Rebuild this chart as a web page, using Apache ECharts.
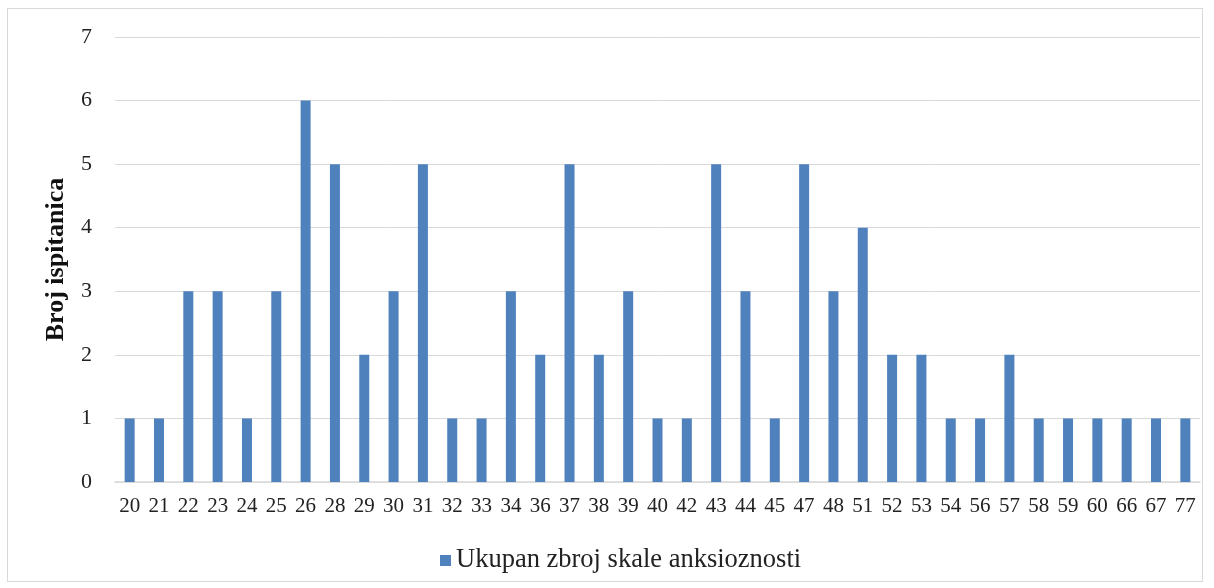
<!DOCTYPE html>
<html><head><meta charset="utf-8">
<script src="https://cdn.jsdelivr.net/npm/echarts@6/dist/echarts.min.js"></script>
<style>html,body{margin:0;padding:0;background:#fff}#c{width:1214px;height:588px}
#frame{position:absolute;left:7px;top:8px;width:1196px;height:574px;border:1px solid #d9d9d9;box-sizing:border-box;pointer-events:none}</style>
</head><body><div id="c"></div><div id="frame"></div>
<script>
const categories = ['20','21','22','23','24','25','26','28','29','30','31','32','33','34','36','37','38','39','40','42','43','44','45','47','48','51','52','53','54','56','57','58','59','60','66','67','77'];
const values = [1,1,3,3,1,3,6,5,2,3,5,1,1,3,2,5,2,3,1,1,5,3,1,5,3,4,2,2,1,1,2,1,1,1,1,1,1];
const seriesName = 'Ukupan zbroj skale anksioznosti';
const yTitle = 'Broj ispitanica';
const chart = echarts.init(document.getElementById('c'));
const font = '"Liberation Serif","Times New Roman",serif';
chart.setOption({
  animation:false,
  textStyle:{fontFamily:font},
  grid:{left:115,right:14,top:37,bottom:106},
  legend:{top:542,left:435,itemWidth:11,itemHeight:11,icon:'rect',itemGap:6,
    textStyle:{fontFamily:font,fontSize:26.5,color:'#222'},data:[seriesName]},
  xAxis:{type:'category',data:categories,
    axisLine:{lineStyle:{color:'#d9d9d9',width:1.5}},axisTick:{show:false},
    axisLabel:{fontFamily:font,fontSize:21,color:'#222',margin:14,interval:0}},
  yAxis:{type:'value',min:0,max:7,interval:1,
    name:yTitle,nameLocation:'middle',nameGap:46,
    nameTextStyle:{fontFamily:font,fontSize:26,fontWeight:'bold',color:'#111'},
    axisLine:{show:false},axisTick:{show:false},
    splitLine:{lineStyle:{color:'#d9d9d9'}},
    axisLabel:{fontFamily:font,fontSize:22,color:'#222',margin:23}},
  series:[{name:seriesName,type:'bar',data:values,barWidth:10,itemStyle:{color:'#4F81BD'}}]
});
</script></body></html>
